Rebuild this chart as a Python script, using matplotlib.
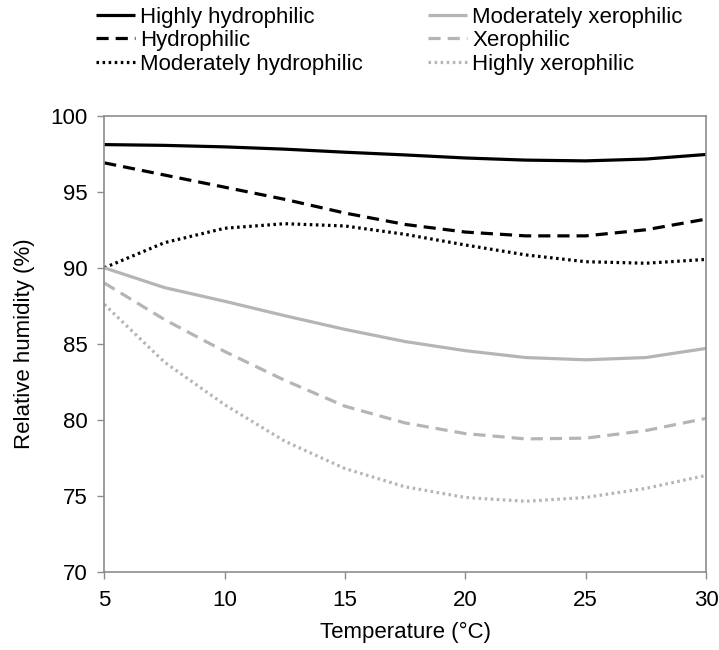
import numpy as np
import matplotlib.pyplot as plt

# ===================== data =====================
temps = [5, 7.5, 10, 12.5, 15, 17.5, 20, 22.5, 25, 27.5, 30]

highly_hydrophilic = [98.1, 98.05, 97.95, 97.8, 97.6, 97.42, 97.22, 97.08, 97.03, 97.15, 97.45]
hydrophilic = [96.9, 96.1, 95.3, 94.5, 93.6, 92.85, 92.35, 92.1, 92.1, 92.5, 93.2]
moderately_hydrophilic = [90.0, 91.65, 92.6, 92.9, 92.75, 92.2, 91.5, 90.85, 90.4, 90.3, 90.55]
moderately_xerophilic = [90.0, 88.7, 87.8, 86.85, 85.95, 85.15, 84.55, 84.1, 83.95, 84.1, 84.7]
xerophilic = [89.0, 86.6, 84.5, 82.6, 80.9, 79.8, 79.1, 78.75, 78.8, 79.3, 80.1]
highly_xerophilic = [87.6, 83.8, 81.0, 78.6, 76.8, 75.6, 74.9, 74.65, 74.9, 75.5, 76.35]

labels = ["Highly hydrophilic", "Hydrophilic", "Moderately hydrophilic",
          "Moderately xerophilic", "Xerophilic", "Highly xerophilic"]
x_ticks = [5, 10, 15, 20, 25, 30]
y_ticks = [70, 75, 80, 85, 90, 95, 100]

# ===================== style =====================
plt.rcParams["font.family"] = ["Liberation Sans", "DejaVu Sans"]
fsize = 16

BLACK = "black"
GRAY = "#b5b5b5"
AXIS = "#8c8c8c"

fig = plt.figure(figsize=(7.19, 6.5), dpi=100)
ax = fig.add_axes([0.145, 0.12, 0.837, 0.702])

series = [highly_hydrophilic, hydrophilic, moderately_hydrophilic,
          moderately_xerophilic, xerophilic, highly_xerophilic]
colors = [BLACK, BLACK, BLACK, GRAY, GRAY, GRAY]
dash = (0, (3.8, 2.2))
dot = (0, (0.8, 1.1))
styles = ["-", dash, dot, "-", dash, dot]

lines = []
for y, c, ls, lab in zip(series, colors, styles, labels):
    ln, = ax.plot(temps, y, color=c, linestyle=ls, linewidth=2.3, label=lab,
                  solid_capstyle="butt", dash_capstyle="butt")
    lines.append(ln)

ax.set_xlim(5, 30)
ax.set_ylim(70, 100)
ax.set_xticks(x_ticks)
ax.set_yticks(y_ticks)
for s in ax.spines.values():
    s.set_color(AXIS)
    s.set_linewidth(1.2)
ax.tick_params(direction="out", length=5, width=1, color=AXIS, labelsize=fsize)
ax.tick_params(axis="x", pad=8)
ax.tick_params(axis="y", pad=7)
ax.set_xlabel("Temperature (°C)", fontsize=fsize, labelpad=8)
ax.set_ylabel("Relative humidity (%)", fontsize=fsize, labelpad=11)

# legend on top, two columns
fig.legend(handles=lines, ncol=2, loc="upper left", bbox_to_anchor=(0.118, 1.007),
           frameon=False, fontsize=fsize, handlelength=1.75, handletextpad=0.25,
           columnspacing=2.9, labelspacing=0.12, borderaxespad=0.1)

fig.savefig("out.png", dpi=100)
